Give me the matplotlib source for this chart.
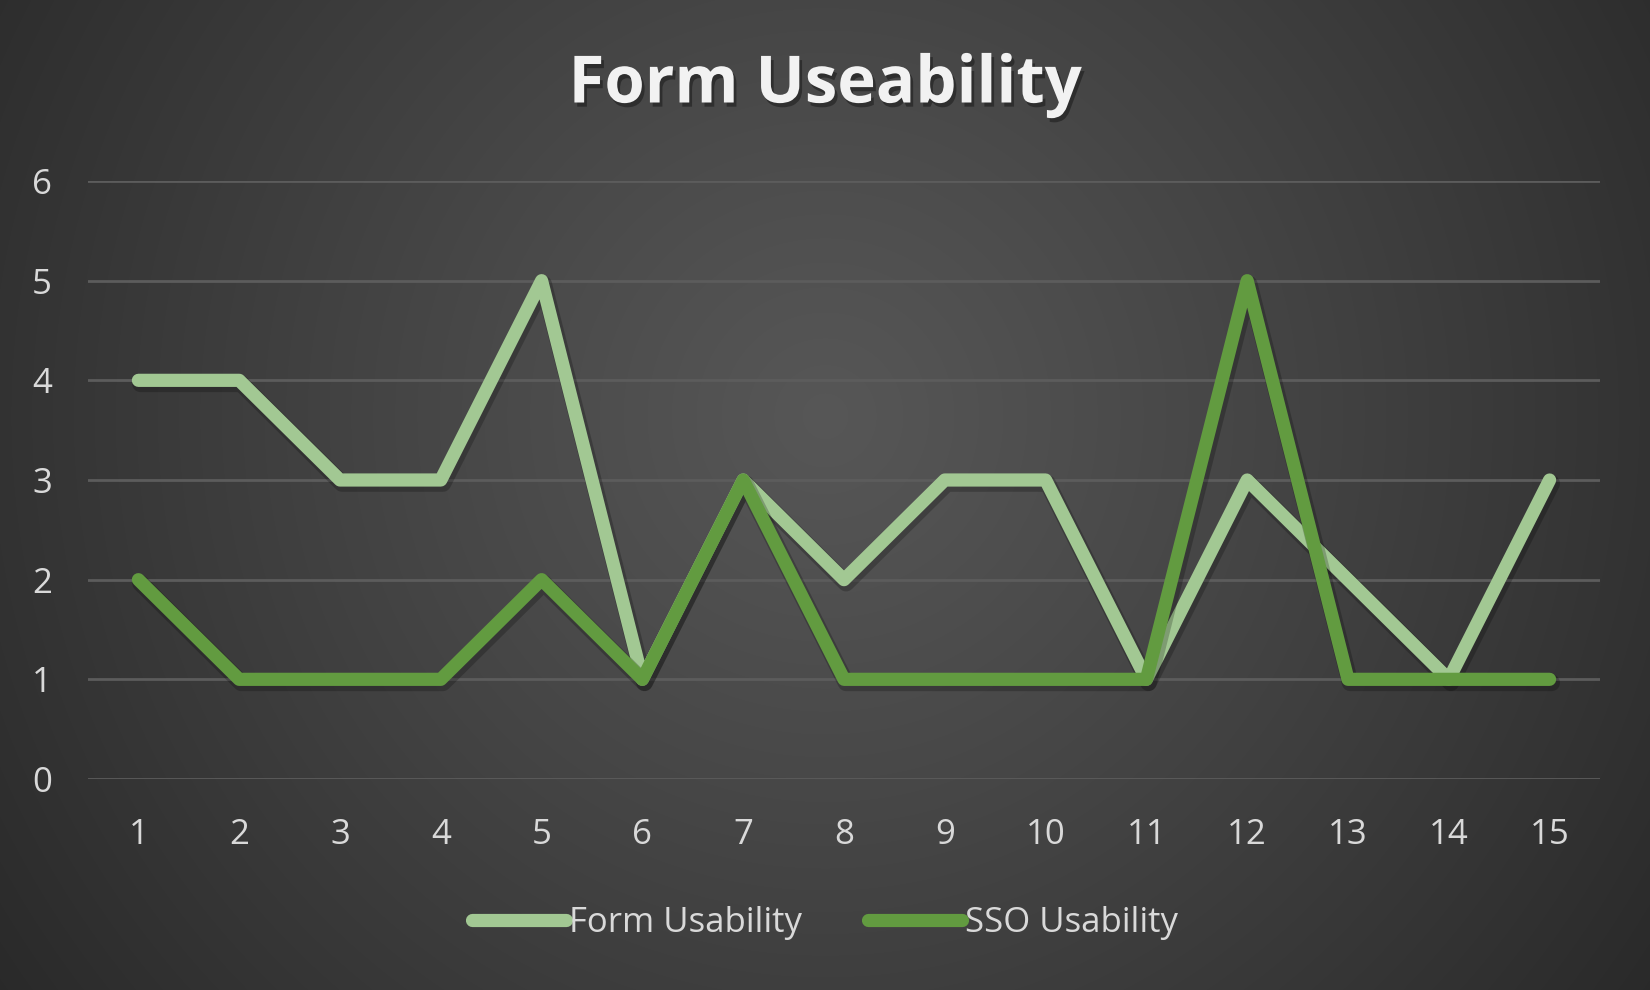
import numpy as np
import matplotlib
matplotlib.use("Agg")
import matplotlib.pyplot as plt
import matplotlib.patheffects as pe

categories = [str(i) for i in range(1, 16)]
form_usability = [4, 4, 3, 3, 5, 1, 3, 2, 3, 3, 1, 3, 2, 1, 3]
sso_usability = [2, 1, 1, 1, 2, 1, 3, 1, 1, 1, 1, 5, 1, 1, 1]
yticks = [0, 1, 2, 3, 4, 5, 6]

W, H = 1650, 990
fig = plt.figure(figsize=(W / 100, H / 100), dpi=100)

# radial gradient background
bg = fig.add_axes([0, 0, 1, 1], zorder=0)
yy, xx = np.mgrid[0:H, 0:W]
cx, cy = 0.5 * W, 0.42 * H
r = np.sqrt(((xx - cx) / (0.62 * W)) ** 2 + ((yy - cy) / (0.62 * W)) ** 2)
r = np.clip(r, 0, 1)
inner, outer = 0.34, 0.16
val = inner + (outer - inner) * r ** 1.1
img = np.dstack([val, val, val])
bg.imshow(img, extent=[0, 1, 0, 1], aspect='auto', origin='upper')
bg.set_axis_off()

ax = fig.add_axes([88 / W, 1 - 779 / H, (1600 - 88) / W, (779 - 181) / H], zorder=1)
ax.patch.set_alpha(0)
x = np.arange(len(categories))
shadow = [pe.SimpleLineShadow(offset=(1.5, -2.5), shadow_color='black', alpha=0.22, linewidth=12),
          pe.Normal()]
l1, = ax.plot(x, form_usability, color='#A2C893', lw=9.5, solid_capstyle='round',
              solid_joinstyle='round', label='Form Usability', zorder=3, path_effects=shadow)
l2, = ax.plot(x, sso_usability, color='#629B40', lw=9.5, solid_capstyle='round',
              solid_joinstyle='round', label='SSO Usability', zorder=4, path_effects=shadow)

ax.set_xlim(-0.5, len(categories) - 0.5)
ax.set_ylim(0, 6)
ax.set_yticks(yticks)
ax.set_yticklabels([str(v) for v in yticks])
ax.set_xticks(x)
ax.set_xticklabels(categories)
ax.grid(axis='y', color='#5C5C5C', lw=2)
ax.set_axisbelow(True)
for s in ax.spines.values():
    s.set_visible(False)
ax.tick_params(length=0, colors='#D9D9D9', labelsize=25)
for t in ax.get_xticklabels() + ax.get_yticklabels():
    t.set_family('Open Sans')
ax.tick_params(axis='x', pad=28)
ax.tick_params(axis='y', pad=26)
for l in (l1, l2):
    l.set_clip_on(False)

fig.text(0.5, 1 - 86 / H, 'Form Useability', ha='center', va='center', fontsize=47,
         fontweight='bold', family='Open Sans', color='#F2F2F2',
         path_effects=[pe.SimplePatchShadow(offset=(2, -3), shadow_rgbFace='black', alpha=0.35), pe.Normal()])

leg = fig.legend(handles=[l1, l2], loc='center', bbox_to_anchor=(0.5, 1 - 923 / H), ncol=2,
                 frameon=False, handlelength=2.7, handletextpad=0.1,
                 columnspacing=1.9, labelcolor='#D9D9D9', prop={'family': 'Open Sans', 'size': 25})
for h in leg.legend_handles:
    h.set_path_effects([])

fig.savefig('out.png', dpi=100)
